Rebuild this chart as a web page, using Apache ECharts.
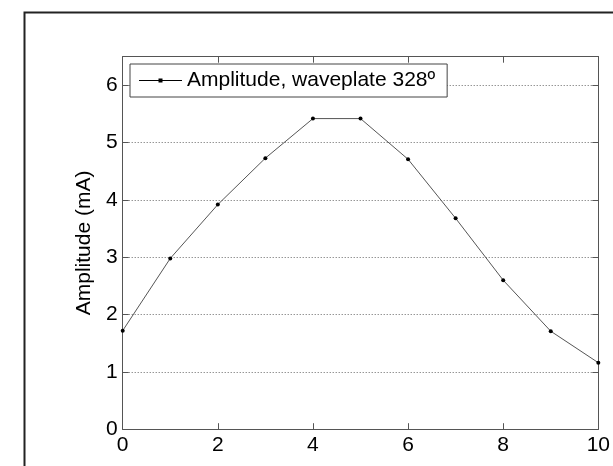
<!DOCTYPE html>
<html>
<head>
<meta charset="utf-8">
<script src="https://cdn.jsdelivr.net/npm/echarts@6/dist/echarts.min.js"></script>
<style>
html,body{margin:0;padding:0;background:#fff;}
#c{width:613px;height:466px;}
</style>
</head>
<body>
<div id="c"></div>
<script>
var xValues = [0, 1, 2, 3, 4, 5, 6, 7, 8, 9, 10];
var amplitude = [1.72, 2.98, 3.92, 4.73, 5.42, 5.42, 4.71, 3.68, 2.60, 1.71, 1.16];
var seriesName = 'Amplitude, waveplate 328º';
var yTitle = 'Amplitude (mA)';

var FONT = '"Liberation Sans", Arial, sans-serif';
var chart = echarts.init(document.getElementById('c'), null, {renderer: 'canvas'});
var axisLine = {show: true, onZero: false, lineStyle: {color: '#555', width: 1}};
var tick = {show: true, inside: true, length: 6, lineStyle: {color: '#555', width: 1}};

chart.setOption({
  animation: false,
  backgroundColor: '#fff',
  graphic: [{
    type: 'rect', left: 22, top: 10, z: -1,
    shape: {width: 620, height: 480},
    style: {fill: 'none', stroke: '#222', lineWidth: 2}
  }],
  legend: {
    left: 130, top: 64,
    padding: [6, 12, 6, 9],
    backgroundColor: '#fff',
    borderColor: '#444', borderWidth: 1,
    itemWidth: 43, itemHeight: 4,
    icon: 'path://M0,1.5H43V2.5H0Z M19.5,0H23.5V4H19.5Z',
    textStyle: {fontFamily: FONT, fontSize: 21, color: '#000'},
    data: [seriesName]
  },
  grid: {left: 122.7, top: 56.7, right: 14, bottom: 36.8, containLabel: false},
  xAxis: [{
    type: 'value', min: 0, max: 10, interval: 2,
    axisLine: axisLine, axisTick: tick,
    axisLabel: {fontFamily: FONT, fontSize: 21, color: '#000', margin: 6},
    splitLine: {show: false}
  }, {
    type: 'value', position: 'top', min: 0, max: 10, interval: 2,
    axisLine: axisLine, axisTick: tick,
    axisLabel: {show: false}, splitLine: {show: false}
  }],
  yAxis: [{
    type: 'value', min: 0, max: 6.5, interval: 1,
    axisLine: axisLine, axisTick: tick,
    axisLabel: {fontFamily: FONT, fontSize: 21, color: '#000', margin: 5, showMaxLabel: false},
    splitLine: {show: true, lineStyle: {color: '#666', width: 1, type: [1, 2]}},
    name: yTitle, nameLocation: 'middle', nameGap: 24,
    nameTextStyle: {fontFamily: FONT, fontSize: 21, color: '#000'}
  }, {
    type: 'value', position: 'right', min: 0, max: 6.5, interval: 1,
    axisLine: axisLine, axisTick: tick,
    axisLabel: {show: false}, splitLine: {show: false}
  }],
  series: [{
    name: seriesName,
    type: 'line',
    data: xValues.map(function (x, i) { return [x, amplitude[i]]; }),
    smooth: false,
    symbol: 'circle',
    symbolSize: 4,
    itemStyle: {color: '#000'},
    lineStyle: {color: '#555', width: 1}
  }]
});
</script>
</body>
</html>
